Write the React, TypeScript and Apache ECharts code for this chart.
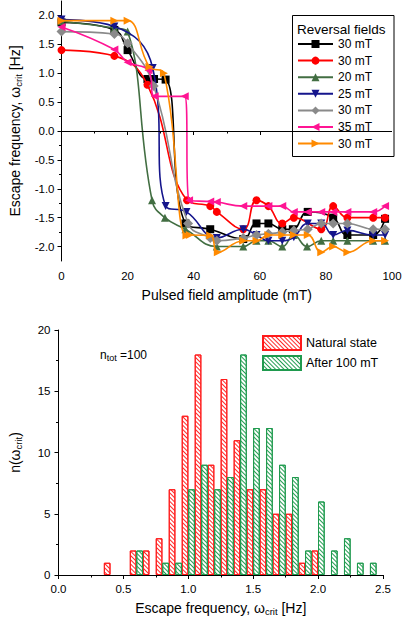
import React, { useEffect, useRef } from "react";
import * as echarts from "echarts";

const FONT = '"Liberation Sans", Arial, sans-serif';

// ---------- Top chart: escape frequency vs pulsed field ----------
const SERIES_IDS = ["s1", "s2", "s3", "s4", "s5", "s6", "s7"];
const FIELD_LABELS = ["30 mT", "30 mT", "20 mT", "25 mT", "30 mT", "35 mT", "30 mT"];

const X1 = [0, 16, 20, 26, 28, 31.5, 37.5, 45, 55, 59, 62.6, 66.8, 70, 74.5, 82.2, 86.5, 94.3, 97.9];
const Y1 = [1.88, 1.75, 1.4, 0.9, 0.9, 0.89, -1.6, -1.7, -1.87, -1.6, -1.6, -1.7, -1.7, -1.4, -1.5, -1.8, -1.8, -1.52];

const X2 = [0, 16, 26, 38, 45, 47, 55, 59, 62.6, 66.8, 70.3, 78.6, 82.2, 86.5, 94.3, 97.9];
const Y2 = [1.4, 1.3, 0.8, -1.2, -1.3, -1.4, -1.7, -1.2, -1.3, -1.6, -1.5, -1.7, -1.3, -1.5, -1.5, -1.5];

const X3 = [0, 16, 20, 27.4, 31.3, 37.5, 47, 55, 59, 62.6, 66.8, 70.3, 74.3, 78.6, 82.2, 86.5, 94.3, 97.9];
const Y3 = [1.9, 1.78, 1.72, -1.2, -1.5, -1.7, -2.0, -2.0, -1.9, -1.9, -2.0, -1.8, -2.0, -1.9, -1.9, -1.9, -1.9, -1.9];

const X4 = [0, 16, 27.6, 31.5, 37.8, 47, 55, 59, 62.6, 66.8, 70.3, 74.5, 78.6, 82.2, 86.5, 94.3, 97.9];
const Y4 = [1.93, 1.81, 1.09, -1.3, -1.4, -1.85, -1.7, -1.8, -1.9, -1.9, -1.84, -1.6, -1.6, -1.8, -1.72, -1.8, -1.8];

const X5 = [0, 16, 20, 27.9, 38.3, 45, 47, 55, 59, 62.6, 66.8, 70.3, 74.5, 78.6, 82.2, 86.5, 94.3, 97.9];
const Y5 = [1.72, 1.68, 1.52, 0.78, -1.6, -1.85, -1.9, -1.85, -1.8, -1.78, -1.75, -1.72, -1.7, -1.6, -1.6, -1.6, -1.7, -1.7];

const X6 = [0, 16, 20, 26.3, 28.2, 37.3, 38.6, 45, 47, 55, 62.6, 66.8, 70.3, 74.5, 78.6, 82.2, 86.5, 94.3, 97.9];
const Y6 = [1.8, 1.41, 1.19, 1.05, 0.6, 0.6, -1.2, -1.22, -1.23, -1.3, -1.3, -1.3, -1.4, -1.4, -1.4, -1.4, -1.4, -1.4, -1.3];

const X7 = [0, 16, 20, 26.6, 31, 37.8, 38.8, 45, 47.3, 55, 59, 62.6, 66.8, 70.3, 74.5, 78.6, 82.2, 86.5, 94.3, 97.9];
const Y7 = [1.91, 1.91, 1.91, 1.11, 1.0, -1.81, -1.8, -1.81, -2.1, -1.9, -1.9, -1.8, -1.8, -1.8, -1.8, -2.1, -2.0, -2.1, -1.9, -1.9];

const XS = [X1, X2, X3, X4, X5, X6, X7];
const YS = [Y1, Y2, Y3, Y4, Y5, Y6, Y7];

const COLORS = ["#000000", "#ff0000", "#426e42", "#15158c", "#8a8a8a", "#ff1493", "#ff8a00"];
const SYMBOLS = ["rect", "circle", "triangle", "triangle", "diamond", "triangle", "triangle"];
const ROTATES = [0, 0, 0, 180, 0, 90, -90];

const TOP_X_TICKS = { min: 0, max: 100, interval: 20 };
const TOP_Y_LABELS = [-2, -1.5, -1, -0.5, 0, 0.5, 1, 1.5, 2];
const TOP_Y_MINOR = [-1.75, -1.25, -0.75, -0.25, 0.25, 0.75, 1.25, 1.75];

// ---------- Bottom chart: histogram ----------
const BIN_HALF = 0.05;
const NAT_START = [0.35, 0.55, 0.65, 0.75, 0.85, 0.95, 1.05, 1.15, 1.25, 1.35, 1.45, 1.55, 1.65, 1.75, 1.85, 1.95];
const NAT_COUNT = [1, 2, 2, 3, 7, 13, 18, 9, 16, 11, 7, 7, 5, 5, 1, 2];
const AFT_START = [0.6, 0.8, 0.9, 1.0, 1.1, 1.2, 1.3, 1.4, 1.5, 1.6, 1.7, 1.8, 1.9, 2.0, 2.1, 2.2, 2.3, 2.4];
const AFT_COUNT = [2, 1, 1, 7, 9, 7, 8, 18, 12, 12, 9, 8, 2, 6, 2, 3, 1, 1];

const W = 405;
const H = 619;
const G0 = { left: 51, right: 13, top: 1, height: 260 };
const G1 = { left: 50, right: 22, top: 330, height: 245 };
const BOT_X_MAX = 2.5;

export default function App() {
  const ref = useRef<HTMLDivElement>(null);

  useEffect(() => {
    if (!ref.current) return;
    const chart = echarts.init(ref.current, null, { renderer: "svg" });

    const axisCommon = {
      axisLine: { show: true, lineStyle: { color: "#000", width: 1 } },
      axisTick: { show: true, inside: false, length: 4, lineStyle: { color: "#000" } },
      minorTick: { show: true, splitNumber: 2, length: 2.5, lineStyle: { color: "#000" } },
      splitLine: { show: false },
      minorSplitLine: { show: false },
    };
    const labelStyle = { color: "#000", fontSize: 11.5, fontFamily: FONT };
    const nameStyle = {
      color: "#000",
      fontSize: 14,
      fontFamily: FONT,
      rich: { s: { fontSize: 9.5, fontFamily: FONT, color: "#000", padding: [7, 0, 0, 0] } },
    };

    const lineSeries = SERIES_IDS.map((id, k) => ({
      type: "line",
      name: id,
      xAxisIndex: 0,
      yAxisIndex: 0,
      smooth: 0.45,
      data: XS[k].map((x, i) => [x, YS[k][i]]),
      symbol: SYMBOLS[k],
      symbolSize: SYMBOLS[k] === "diamond" ? 10 : 8,
      symbolRotate: ROTATES[k],
      showAllSymbol: true,
      color: COLORS[k],
      itemStyle: { color: COLORS[k] },
      lineStyle: { color: COLORS[k], width: 1.6 },
      z: 2 + k * 0.01,
      markLine:
        k === 0
          ? {
              silent: true,
              symbol: "none",
              label: { show: false },
              lineStyle: { color: "#000", width: 1, type: "solid" },
              data: [{ yAxis: 0 }],
            }
          : undefined,
    }));

    const barW = ((W - G1.left - G1.right) * BIN_HALF) / BOT_X_MAX;
    const decalBase = {
      symbol: "rect",
      symbolSize: 1,
      dashArrayX: [1, 0],
      dashArrayY: [1, 2],
      rotation: Math.PI / 4,
    };

    const barSeries = [
      {
        type: "bar",
        name: "Natural state",
        xAxisIndex: 1,
        yAxisIndex: 2,
        barWidth: barW,
        barGap: "-100%",
        data: NAT_START.map((x, i) => [x + BIN_HALF / 2, NAT_COUNT[i]]),
        itemStyle: {
          color: "#ffffff",
          borderColor: "#ff1a1a",
          borderWidth: 1,
          decal: { ...decalBase, color: "#ff2a2a" },
        },
      },
      {
        type: "bar",
        name: "After 100 mT",
        xAxisIndex: 1,
        yAxisIndex: 2,
        barWidth: barW,
        barGap: "-100%",
        data: AFT_START.map((x, i) => [x + BIN_HALF / 2, AFT_COUNT[i]]),
        itemStyle: {
          color: "#ffffff",
          borderColor: "#1f9a4e",
          borderWidth: 1,
          decal: { ...decalBase, color: "#239e52" },
        },
      },
    ];

    const option: any = {
      animation: false,
      backgroundColor: "#ffffff",
      textStyle: { fontFamily: FONT },
      grid: [
        { left: G0.left, right: G0.right, top: G0.top, height: G0.height, containLabel: false },
        { left: G1.left, right: G1.right, top: G1.top, height: G1.height, containLabel: false },
      ],
      xAxis: [
        {
          type: "value",
          gridIndex: 0,
          ...TOP_X_TICKS,
          ...axisCommon,
          axisLabel: { ...labelStyle, margin: 9 },
          name: "Pulsed field amplitude (mT)",
          nameLocation: "middle",
          nameGap: 27,
          nameTextStyle: nameStyle,
        },
        {
          type: "value",
          gridIndex: 1,
          min: 0,
          max: BOT_X_MAX,
          interval: 0.5,
          ...axisCommon,
          axisLabel: { ...labelStyle, margin: 8, formatter: (v: number) => v.toFixed(1) },
          name: "Escape frequency, ω{s|crit} [Hz]",
          nameLocation: "middle",
          nameGap: 24,
          nameTextStyle: nameStyle,
        },
      ],
      yAxis: [
        {
          type: "value",
          gridIndex: 0,
          position: "left",
          min: -2.25,
          max: 2.25,
          ...axisCommon,
          minorTick: { show: false },
          axisTick: { show: true, length: 4, lineStyle: { color: "#000" }, customValues: TOP_Y_LABELS },
          axisLabel: {
            ...labelStyle,
            margin: 7,
            customValues: TOP_Y_LABELS,
            formatter: (v: number) => v.toFixed(1),
          },
          name: "Escape frequency, ω{s|crit} [Hz]",
          nameLocation: "middle",
          nameGap: 38,
          nameTextStyle: nameStyle,
        },
        {
          type: "value",
          gridIndex: 0,
          position: "left",
          min: -2.25,
          max: 2.25,
          axisLine: { show: false },
          axisLabel: { show: false },
          splitLine: { show: false },
          axisTick: { show: true, length: 2.5, lineStyle: { color: "#000" }, customValues: TOP_Y_MINOR },
        },
        {
          type: "value",
          gridIndex: 1,
          position: "left",
          min: 0,
          max: 20,
          interval: 5,
          ...axisCommon,
          axisLabel: { ...labelStyle, margin: 8 },
          name: "n(ω{s|crit})",
          nameLocation: "middle",
          nameGap: 35,
          nameTextStyle: nameStyle,
        },
      ],
      legend: [
        {
          id: "fields",
          orient: "vertical",
          left: 297,
          top: 37,
          padding: 0,
          itemWidth: 35,
          itemHeight: 10,
          itemGap: 2.6,
          selectedMode: false,
          data: SERIES_IDS,
          formatter: (n: string) => FIELD_LABELS[SERIES_IDS.indexOf(n)],
          textStyle: { color: "#000", fontSize: 12, lineHeight: 14, fontFamily: FONT },
          z: 6,
        },
        {
          id: "hist",
          orient: "vertical",
          left: 262,
          top: 335,
          padding: 0,
          icon: "rect",
          itemWidth: 38,
          itemHeight: 14,
          itemGap: 4,
          selectedMode: false,
          data: ["Natural state", "After 100 mT"],
          textStyle: { color: "#000", fontSize: 12.5, fontFamily: FONT },
        },
      ],
      graphic: [
        {
          type: "rect",
          z: 3,
          shape: { x: 292.5, y: 15.5, width: 101.5, height: 141 },
          style: { fill: "#ffffff", stroke: "#000", lineWidth: 1 },
        },
        {
          type: "text",
          z: 7,
          x: 297,
          y: 29,
          style: {
            text: "Reversal fields",
            fill: "#000",
            fontSize: 13.5,
            fontFamily: FONT,
            verticalAlign: "middle",
          },
        },
        {
          type: "text",
          z: 7,
          x: 100,
          y: 355,
          style: {
            text: "{a|n}{b|tot}{a| =100}",
            verticalAlign: "middle",
            rich: {
              a: { fontSize: 12, fontFamily: FONT, fill: "#000", color: "#000" },
              b: { fontSize: 9, fontFamily: FONT, fill: "#000", color: "#000", padding: [6, 0, 0, 0] },
            },
          },
        },
      ],
      series: [...lineSeries, ...barSeries],
    };

    chart.setOption(option);
    return () => chart.dispose();
  }, []);

  return (
    <div
      ref={ref}
      style={{ position: "absolute", left: 0, top: 0, width: W, height: H, background: "#fff" }}
    />
  );
}
